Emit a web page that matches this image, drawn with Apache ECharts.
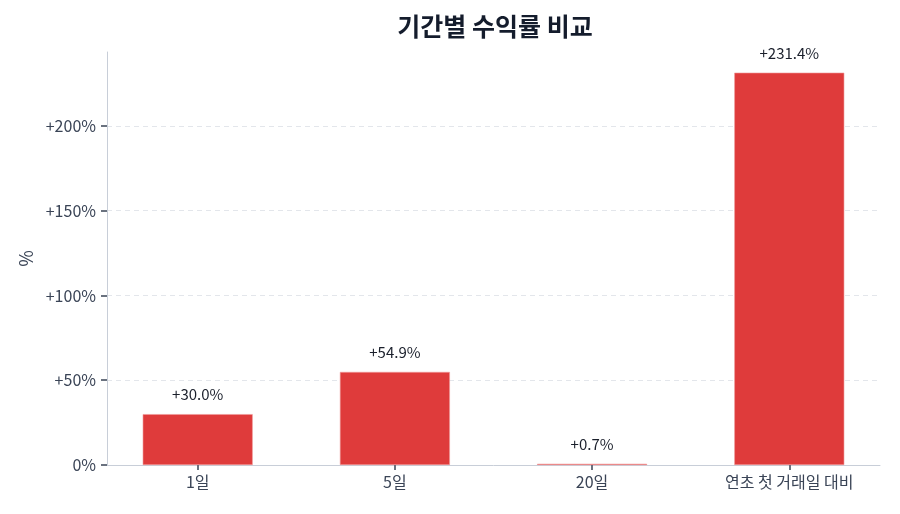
<!DOCTYPE html>
<html>
<head>
<meta charset="utf-8">
<script src="https://cdn.jsdelivr.net/npm/echarts@6/dist/echarts.min.js"></script>
<style>
  html, body { margin: 0; padding: 0; background: #fff; }
  #chart { width: 900px; height: 514px; }
</style>
</head>
<body>
<div id="chart"></div>
<script>
const periods = ['1일', '5일', '20일', '연초 첫 거래일 대비'];
const returns = [30.0, 54.9, 0.7, 231.4];
const yTicks = [0, 50, 100, 150, 200];

const font = '"Noto Sans CJK KR", "Noto Sans", sans-serif';
const fmt = v => (v > 0 ? '+' : '') + v + '%';
const xPos = periods.map((_, i) => i);

const chart = echarts.init(document.getElementById('chart'));
chart.setOption({
    animation: false,
    textStyle: { fontFamily: font },
    title: {
        text: '기간별 수익률 비교',
        left: 490, top: 9, textAlign: 'center',
        textStyle: { fontSize: 25, fontWeight: 'bold', color: '#141c2c', fontFamily: font }
    },
    grid: { left: 107, right: 20, top: 52, bottom: 49 },
    xAxis: {
        type: 'value',
        min: -0.46,
        max: 3.46,
        splitLine: { show: false },
        axisLine: { onZero: false, lineStyle: { color: '#c8ced8' } },
        axisTick: { show: true, length: 5, customValues: xPos, lineStyle: { color: '#3a4456', width: 1.5 } },
        axisLabel: { color: '#3a4456', fontSize: 16, margin: 9, customValues: xPos, formatter: v => periods[v] }
    },
    yAxis: {
        type: 'value',
        min: 0,
        max: 243.6,
        interval: 50,
        name: '%',
        nameLocation: 'middle',
        nameGap: 72,
        nameRotate: 90,
        nameTextStyle: { color: '#3a4456', fontSize: 18 },
        axisLine: { show: true, onZero: false, lineStyle: { color: '#c8ced8' } },
        axisTick: { show: true, length: 6, customValues: yTicks, lineStyle: { color: '#3a4456', width: 1.5 } },
        axisLabel: { color: '#3a4456', fontSize: 16, margin: 11, customValues: yTicks, formatter: v => v === 0 ? '0%' : fmt(v) },
        splitLine: { lineStyle: { color: '#e3e6eb', type: [5, 4] } }
    },
    series: [{
        type: 'bar',
        data: returns.map((v, i) => [xPos[i], v]),
        barWidth: 110,
        itemStyle: { color: '#df3b3b', borderColor: '#f09a9a', borderWidth: 0.6 },
        label: {
            show: true,
            position: 'top',
            distance: 12,
            color: '#1a1f2b',
            fontSize: 15,
            formatter: p => fmt(p.value[1].toFixed(1))
        }
    }]
});
</script>
</body>
</html>
